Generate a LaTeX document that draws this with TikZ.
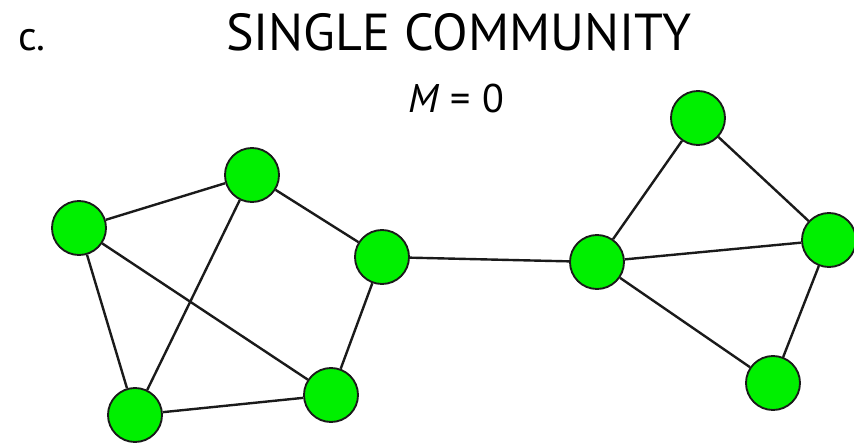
\documentclass[tikz,border=0pt]{standalone}
\usepackage{fontspec}
\setsansfont{PT Sans}
\usetikzlibrary{positioning}
\definecolor{cgreen}{HTML}{00F000}
\definecolor{cedge}{HTML}{1A1A1A}
\tikzset{
  every picture/.style={font=\sffamily},
  vertex/.style={circle, draw=cedge, fill=cgreen, line width=1.4pt, minimum size=40.5pt, inner sep=0pt},
  link/.style={draw=cedge, line width=1.8pt},
  title/.style={font=\sffamily\fontsize{39}{40}\selectfont, inner sep=0pt},
  panel/.style={font=\sffamily\fontsize{31}{32}\selectfont, inner sep=0pt},
}

\begin{document}
\begin{tikzpicture}[x=0.75pt, y=-0.75pt]
  \useasboundingbox (0,0) rectangle (854,444);
  % labels
  \node[panel, anchor=base west] (panel) at (18, 50) {c.};
  \node[title, anchor=base] (head) at (459, 50) {SINGLE COMMUNITY};
  \node[font=\sffamily\fontsize{30}{31}\selectfont, inner sep=0pt, anchor=base west] (mod) at (408, 112)
    {\textit{M}\hspace{8pt}=\hspace{9pt}0};
  % left group
  \node[vertex] (l1) at (79, 228) {};
  \node[vertex] (l2) at (252, 175) {};
  \node[vertex] (l3) at (382, 257) {};
  \node[vertex] (l4) at (331, 395) {};
  \node[vertex] (l5) at (135, 415) {};
  % right group
  \node[vertex] (r1) at (597, 262) {};
  \node[vertex] (r2) at (698, 118) {};
  \node[vertex] (r3) at (829, 240) {};
  \node[vertex] (r4) at (773, 383) {};
  % edges
  \foreach \a/\b in {l1/l2, l1/l5, l1/l4, l2/l3, l2/l5, l3/l4, l5/l4, l3/r1,
                     r1/r2, r2/r3, r1/r3, r1/r4, r4/r3}
    \draw[link] (\a) -- (\b);
\end{tikzpicture}
\end{document}
